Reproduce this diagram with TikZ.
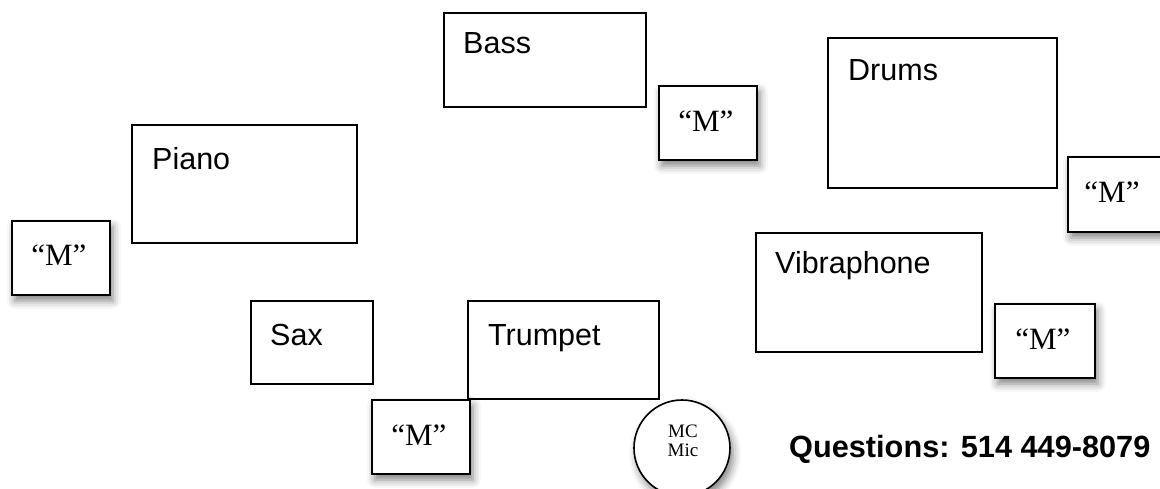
\documentclass[tikz,border=0pt]{standalone}
\usepackage{fontspec}
\setmainfont{Liberation Serif}
\setsansfont{Liberation Sans}
\usetikzlibrary{shadows.blur,calc}
\begin{document}
\begin{tikzpicture}[x=1pt,y=-1pt,
  inst/.style={draw=black,line width=1.6pt,fill=white,anchor=north west,inner sep=0pt},
  lbl/.style={anchor=base west,inner sep=0pt,font=\sffamily\fontsize{30.5}{36}\selectfont},
  shd/.style={blur shadow={shadow xshift=3pt,shadow yshift=-6pt,shadow blur radius=8pt,shadow opacity=50}},
  mbox/.style={draw=black,line width=1.6pt,fill=white,anchor=north west,inner sep=0pt,
    minimum width=98pt,minimum height=74pt,shd},
  mtxt/.style={font=\fontsize{31}{34}\selectfont,inner sep=0pt}
]
\useasboundingbox (0,0) rectangle (1160,488);
% instrument boxes
\node[inst,minimum width=202pt,minimum height=94pt] (bass) at (443,12) {};
\node[lbl] (bassl) at (463,53) {Bass};
\node[inst,minimum width=229pt,minimum height=150pt] (drums) at (827,37) {};
\node[lbl] (drumsl) at (848,80) {Drums};
\node[inst,minimum width=225pt,minimum height=118pt] (piano) at (131,124) {};
\node[lbl] (pianol) at (152,169) {Piano};
\node[inst,minimum width=226pt,minimum height=119pt] (vib) at (755,232) {};
\node[lbl] (vibl) at (775,273) {Vibraphone};
\node[inst,minimum width=122pt,minimum height=83pt] (sax) at (250,300) {};
\node[lbl] (saxl) at (270,345) {Sax};
\node[inst,minimum width=191pt,minimum height=98pt] (trumpet) at (467,300) {};
\node[lbl] (trumpetl) at (488,345) {Trumpet};
% monitor boxes
\node[mbox] (m1) at (658,85) {};
\node[mtxt] (m1t) at ($(m1.center)+(-2,-2)$) {“M”};
\node[mbox,minimum width=100pt,minimum height=75pt] (m2) at (1067,156) {};
\node[mtxt] (m2t) at (1112,192) {“M”};
\node[mbox] (m3) at (11,220) {};
\node[mtxt] (m3t) at ($(m3.center)+(-2,-3)$) {“M”};
\node[mbox] (m4) at (371,399) {};
\node[mtxt] (m4t) at ($(m4.center)+(-2,-2)$) {“M”};
\node[mbox,minimum width=100pt] (m5) at (994,303) {};
\node[mtxt] (m5t) at ($(m5.center)+(-2,-2)$) {“M”};
% MC mic
\node[draw=black,line width=1.6pt,fill=white,circle,minimum size=96pt,inner sep=0pt,shd]
  (mic) at (682,448) {};
\node[align=center,font=\fontsize{19}{19}\selectfont,inner sep=0pt] (micl) at (683,441) {MC\\Mic};
% questions
\node[anchor=base west,inner sep=0pt,font=\sffamily\bfseries\fontsize{30.7}{36}\selectfont] (q) at (789,457) {Questions: 514 449-8079};
\end{tikzpicture}
\end{document}
